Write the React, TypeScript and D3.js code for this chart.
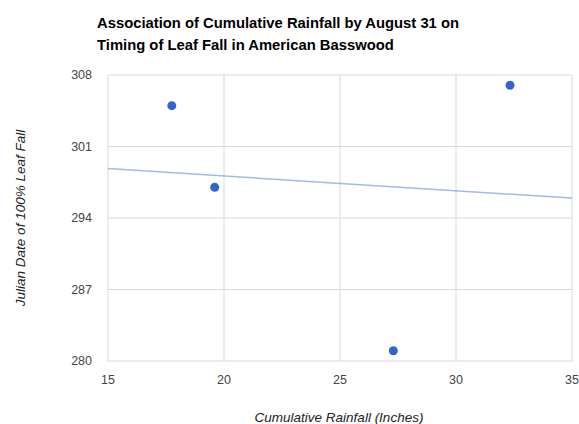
import React from "react";
import * as d3 from "d3";

const rainfall = [17.75, 19.6, 27.3, 32.33];
const leafFallDate = [305, 297, 281, 307];
const xTicks = [15, 20, 25, 30, 35];
const yTicks = [280, 287, 294, 301, 308];
const titleLines = [
  "Association of Cumulative Rainfall by August 31 on",
  "Timing of Leaf Fall in American Basswood",
];

const W = 579;
const H = 424;
const left = 108;
const right = 572;
const top = 75;
const bottom = 361;

export default function App() {
  const x = d3.scaleLinear().domain([15, 35]).range([left, right]);
  const y = d3.scaleLinear().domain([280, 308]).range([bottom, top]);

  const mx = d3.mean(rainfall)!;
  const my = d3.mean(leafFallDate)!;
  let sxy = 0;
  let sxx = 0;
  rainfall.forEach((v, i) => {
    sxy += (v - mx) * (leafFallDate[i] - my);
    sxx += (v - mx) * (v - mx);
  });
  const slope = sxy / sxx;
  const fit = (v: number) => my + slope * (v - mx);
  const line = d3
    .line<number>()
    .x((d) => x(d))
    .y((d) => y(fit(d)));

  const font = "Arial, 'Liberation Sans', Helvetica, sans-serif";

  return (
    <svg
      width={W}
      height={H}
      style={{ position: "absolute", left: 0, top: 0, background: "#fff" }}
      fontFamily={font}
    >
      {titleLines.map((t, i) => (
        <text key={i} x={97} y={28 + i * 22} fontSize={14.8} fontWeight="bold" fill="#000">
          {t}
        </text>
      ))}
      {xTicks.map((t) => (
        <line key={"gx" + t} x1={x(t)} x2={x(t)} y1={top} y2={bottom} stroke="#d9d9d9" strokeWidth={1} />
      ))}
      {yTicks.map((t) => (
        <line key={"gy" + t} x1={left} x2={right} y1={y(t)} y2={y(t)} stroke="#d9d9d9" strokeWidth={1} />
      ))}
      {yTicks.map((t) => (
        <text key={"ty" + t} x={92} y={y(t) + 4} fontSize={12.5} fill="#444" textAnchor="end">
          {t}
        </text>
      ))}
      {xTicks.map((t) => (
        <text key={"tx" + t} x={x(t)} y={384} fontSize={12.5} fill="#444" textAnchor="middle">
          {t}
        </text>
      ))}
      <path d={line([15, 35]) || ""} stroke="#3366cc" strokeOpacity={0.45} strokeWidth={1.5} fill="none" />
      {rainfall.map((v, i) => (
        <circle key={"p" + i} cx={x(v)} cy={y(leafFallDate[i])} r={4.5} fill="#3366cc" />
      ))}
      <text
        x={339}
        y={422}
        fontSize={13.5}
        fontStyle="italic"
        fill="#222"
        textAnchor="middle"
      >
        Cumulative Rainfall (Inches)
      </text>
      <text
        transform={`translate(25,218) rotate(-90)`}
        fontSize={13.5}
        fontStyle="italic"
        fill="#222"
        textAnchor="middle"
      >
        Julian Date of 100% Leaf Fall
      </text>
    </svg>
  );
}
